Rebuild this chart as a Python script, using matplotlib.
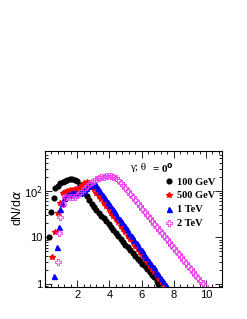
import matplotlib
matplotlib.use('Agg')
import matplotlib.pyplot as plt
from matplotlib.ticker import MultipleLocator, LogLocator, NullFormatter, FixedLocator, FixedFormatter

# 100 GeV
x100=[0.25,0.4,0.55,0.65,0.8,0.95,1.1,1.25,1.4,1.55,1.7,1.85,2.0,2.15,2.3,2.45,2.6,2.75,2.9,3.05,3.2,3.35,3.5,3.65,3.8,3.95,4.1,4.25,4.4,4.55,4.7,4.85,5.0,5.15,5.3,5.45,5.6,5.75,5.9,6.05,6.2,6.35,6.5,6.65,6.8,6.95,7.05]
y100=[10,35,70,115,130,148,158,165,172,178,180,175,160,135,112,92,76,63,53,45,39,34,29.5,25.5,22,19,16.5,14.2,12.3,10.6,9.2,8.0,7.0,6.1,5.3,4.6,4.0,3.5,3.1,2.7,2.4,2.1,1.85,1.6,1.4,1.15,0.98]

# 500 GeV
x500=[0.45,0.6,0.8,0.95,1.1,1.25,1.4,1.55,1.7,1.85,2.0,2.15,2.3,2.45,2.6,2.75,2.9,3.05,3.2,3.35,3.5,3.65,3.8,3.95,4.1,4.25,4.4,4.55,4.7,4.85,5.0,5.15,5.3,5.45,5.6,5.75,5.9,6.05,6.2,6.35,6.5,6.65,6.8,6.95,7.1,7.25,7.35]
y500=[3.8,13,34,55,88,95,100,103,105,107,110,118,135,148,155,150,135,112,92,78,66,56,47.5,40.5,34,29,24.7,21,17.8,15.1,12.8,10.9,9.3,7.9,6.7,5.7,4.8,4.1,3.5,2.95,2.5,2.15,1.82,1.55,1.3,1.12,1.0]

# 1 TeV
x1=[0.55,0.72,0.85,0.95,1.05,1.2,1.35,1.5,1.65,1.8,1.95,2.1,2.25,2.4,2.55,2.7,2.85,3.0,3.15,3.3,3.45,3.6,3.75,3.9,4.05,4.2,4.35,4.5,4.65,4.8,4.95,5.1,5.25,5.4,5.55,5.7,5.85,6.0,6.15,6.3,6.45,6.6,6.75,6.9,7.05,7.2,7.35,7.5,7.6]
y1=[1.5,6.3,17,40,55,70,80,86,88,89,90,92,96,104,115,126,134,138,132,115,97,82,69,58,49,41.5,35,29.5,24.9,21,17.7,14.9,12.6,10.6,8.9,7.5,6.35,5.35,4.5,3.8,3.2,2.7,2.28,1.92,1.62,1.37,1.15,0.97,0.85]

# 2 TeV
x2=[0.78,0.88,0.95,1.1,1.25,1.4,1.55,1.7,1.85,2.0,2.15,2.3,2.45,2.6,2.75,2.9,3.05,3.2,3.35,3.5,3.65,3.8,3.95,4.1,4.25,4.4,4.55,4.7,4.85,5.0,5.15,5.3,5.45,5.6,5.75,5.9,6.05,6.2,6.35,6.5,6.65,6.8,6.95,7.1,7.25,7.4,7.55,7.7,7.85,8.0,8.15,8.3,8.45,8.6,8.75,8.9,9.05,9.2,9.35,9.5,9.65,9.8,9.92]
y2=[3.0,12.5,28,52,72,75,72,72,75,80,90,100,112,125,140,152,165,178,188,196,203,207,208,205,198,185,168,150,132,115,100,86,74,64,55,47.5,41,35.5,30.6,26.4,22.8,19.7,17,14.7,12.7,10.9,9.4,8.1,7.0,6.0,5.1,4.4,3.8,3.25,2.8,2.45,2.1,1.85,1.6,1.38,1.19,1.03,0.92]

fig=plt.figure(figsize=(2.47,3.19), dpi=100)
ax=fig.add_axes([0.182,0.100,0.717,0.427])

ax.plot(x100,y100,'o',color='black',ms=3.4,ls='none',label='100 GeV')
ax.plot(x500,y500,'*',color='red',ms=4.4,ls='none',label='500 GeV')
ax.plot(x1,y1,'^',color='blue',ms=3.6,ls='none',label='1 TeV')
ax.plot(x2,y2,'P',mfc='none',mec='#ee33ee',mew=0.6,ms=4.0,ls='none',label='2 TeV')

ax.set_yscale('log')
ax.set_xlim(0,11)
ax.set_ylim(0.86,720)

ax.set_xticks([0,2,4,6,8,10])
ax.set_xticklabels(['','2','4','6','8','10'])
ax.xaxis.set_minor_locator(MultipleLocator(0.4))
ax.yaxis.set_major_locator(FixedLocator([1,10,100]))
ax.yaxis.set_major_formatter(FixedFormatter(['1','10','10$^{2}$']))
ax.yaxis.set_minor_locator(LogLocator(base=10,subs=range(2,10)))
ax.yaxis.set_minor_formatter(NullFormatter())

ax.tick_params(which='both',direction='in',top=True,right=True,width=0.6,labelsize=8,pad=2)
ax.tick_params(which='major',length=5)
ax.tick_params(which='minor',length=2.5)
for lab in ax.get_xticklabels()+ax.get_yticklabels():
    lab.set_family('Liberation Sans')
for s in ax.spines.values():
    s.set_linewidth(0.8)

fig.text(0.07,0.35,'dN/d$\\alpha$',rotation=90,ha='center',va='center',fontsize=9,family='Liberation Sans')

ax.text(0.48,0.875,'\u03b3; \u03b8',transform=ax.transAxes,fontsize=8,family='Liberation Serif',va='center')
ax.text(0.605,0.875,'= 0$^{\\mathbf{o}}$',transform=ax.transAxes,fontsize=8,family='Liberation Serif',weight='bold',va='center')

leg=ax.legend(loc='upper left',bbox_to_anchor=(0.64,0.845),frameon=False,handlelength=1.0,
              handletextpad=0.3,labelspacing=0.45,borderpad=0,
              prop={'family':'Liberation Serif','weight':'bold','size':7.5})

fig.savefig('out.png',dpi=100)
